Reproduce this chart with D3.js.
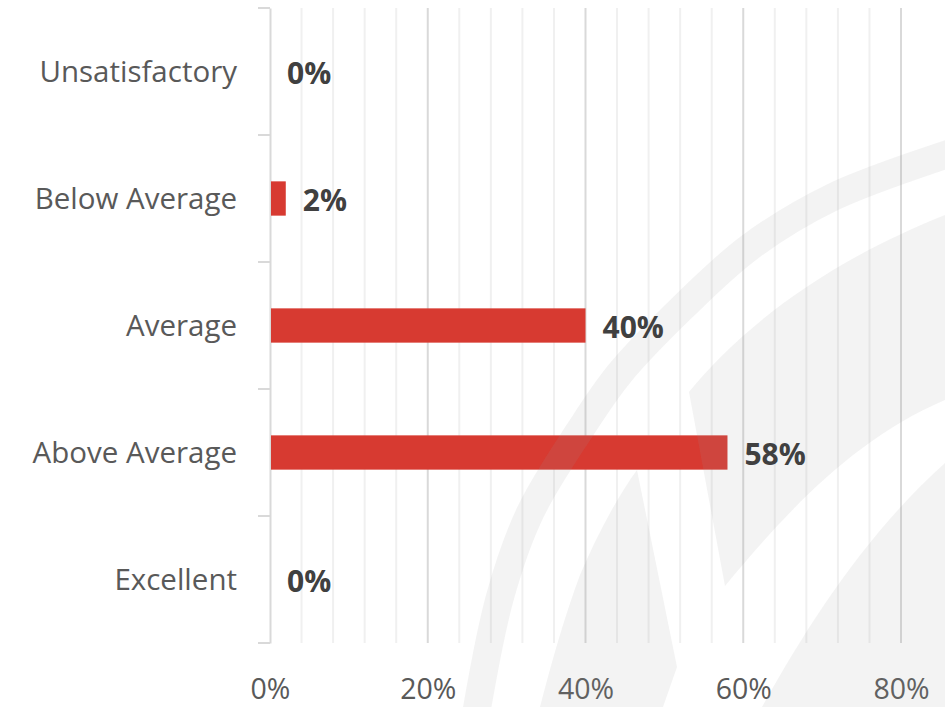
<!DOCTYPE html>
<html>
<head>
<meta charset="utf-8">
<script src="https://cdn.jsdelivr.net/npm/d3@7"></script>
<style>
  html, body { margin: 0; padding: 0; background: #ffffff; }
  svg { display: block; }
  text { font-family: "Open Sans", "Noto Sans", sans-serif; }
</style>
</head>
<body>
<script>
const categories = ["Unsatisfactory", "Below Average", "Average", "Above Average", "Excellent"];
const values = [0, 2, 40, 58, 0];
const xTickValues = [0, 20, 40, 60, 80];
const xTickLabels = ["0%", "20%", "40%", "60%", "80%"];
const minorTickValues = [4, 8, 12, 16, 24, 28, 32, 36, 44, 48, 52, 56, 64, 68, 72, 76];

const W = 945, H = 707;
const margin = { left: 270, right: 44, top: 8, bottom: 64 };

const svg = d3.select("body").append("svg").attr("width", W).attr("height", H);

const x = d3.scaleLinear().domain([0, 80]).range([margin.left, W - margin.right]);
const y = d3.scaleBand().domain(categories).range([margin.top, H - margin.bottom]).padding(0);

// minor gridlines
svg.append("g").selectAll("line").data(minorTickValues).join("line")
  .attr("x1", d => x(d)).attr("x2", d => x(d))
  .attr("y1", margin.top).attr("y2", H - margin.bottom)
  .attr("stroke", "#f0f0f0").attr("stroke-width", 2);

// major gridlines
svg.append("g").selectAll("line").data(xTickValues.slice(1)).join("line")
  .attr("x1", d => x(d)).attr("x2", d => x(d))
  .attr("y1", margin.top).attr("y2", H - margin.bottom)
  .attr("stroke", "#d9d9d9").attr("stroke-width", 2);

// y axis line and category ticks
const yAxis = d3.axisLeft(y).tickSize(0).tickFormat("");
const yg = svg.append("g").attr("transform", `translate(${margin.left},0)`).call(yAxis);
yg.select(".domain").attr("stroke", "#d9d9d9").attr("stroke-width", 2);
const boundaries = categories.map(c => y(c)).concat([y(categories[categories.length - 1]) + y.bandwidth()]);
svg.append("g").selectAll("line").data(boundaries).join("line")
  .attr("x1", margin.left - 12).attr("x2", margin.left)
  .attr("y1", d => d).attr("y2", d => d)
  .attr("stroke", "#d9d9d9").attr("stroke-width", 2);

// category labels
svg.append("g").selectAll("text").data(categories).join("text")
  .attr("x", margin.left - 33)
  .attr("y", d => y(d) + y.bandwidth() / 2)
  .attr("dy", "0.37em")
  .attr("text-anchor", "end")
  .attr("fill", "#595959")
  .attr("font-size", 29.5)
  .text(d => d);

// bars
const barH = y.bandwidth() * 0.27;
svg.append("g").selectAll("rect").data(values).join("rect")
  .attr("x", x(0) + 1)
  .attr("y", (d, i) => y(categories[i]) + y.bandwidth() / 2 - barH / 2)
  .attr("width", d => Math.max(0, x(d) - x(0) - 1))
  .attr("height", barH)
  .attr("fill", "#d73a31");

// x axis labels
const xAxis = d3.axisBottom(x).tickValues(xTickValues).tickSize(0).tickFormat((d, i) => xTickLabels[i]);
const xg = svg.append("g").attr("transform", `translate(0,${H - margin.bottom})`).call(xAxis);
xg.select(".domain").remove();
xg.selectAll("text")
  .attr("font-family", "Open Sans, Noto Sans, sans-serif")
  .attr("font-size", 28.5)
  .attr("fill", "#595959")
  .attr("y", 46)
  .attr("dy", "0.35em");

// watermark (decorative, translucent overlay)
const wm = svg.append("g").attr("fill", "#9a9a9a").attr("fill-opacity", 0.12);
const curve = d3.line().curve(d3.curveCatmullRom);
wm.append("path")
  .attr("d", curve([[475, 720], [500, 597], [530, 513], [580, 430], [620, 373], [683, 307], [750, 247], [833, 197], [960, 150]]))
  .attr("fill", "none").attr("stroke", "#9a9a9a").attr("stroke-opacity", 0.12).attr("stroke-width", 28);
wm.append("path").attr("d",
  "M637,470 C615,500 595,540 580,575 C565,615 552,660 540,707 L663,707 L677,667 Z");
wm.append("path").attr("d",
  "M689,392 C740,330 820,265 945,215 L945,400 C850,440 780,520 725,586 Z");
wm.append("path").attr("d",
  "M762,707 C810,620 870,530 945,463 L945,707 Z");

// value labels
svg.append("g").selectAll("text").data(values).join("text")
  .attr("x", d => x(d) + 17)
  .attr("y", (d, i) => y(categories[i]) + y.bandwidth() / 2)
  .attr("dy", "0.42em")
  .attr("fill", "#404040")
  .attr("font-weight", "bold")
  .attr("font-size", 30)
  .text(d => d + "%");
</script>
</body>
</html>
